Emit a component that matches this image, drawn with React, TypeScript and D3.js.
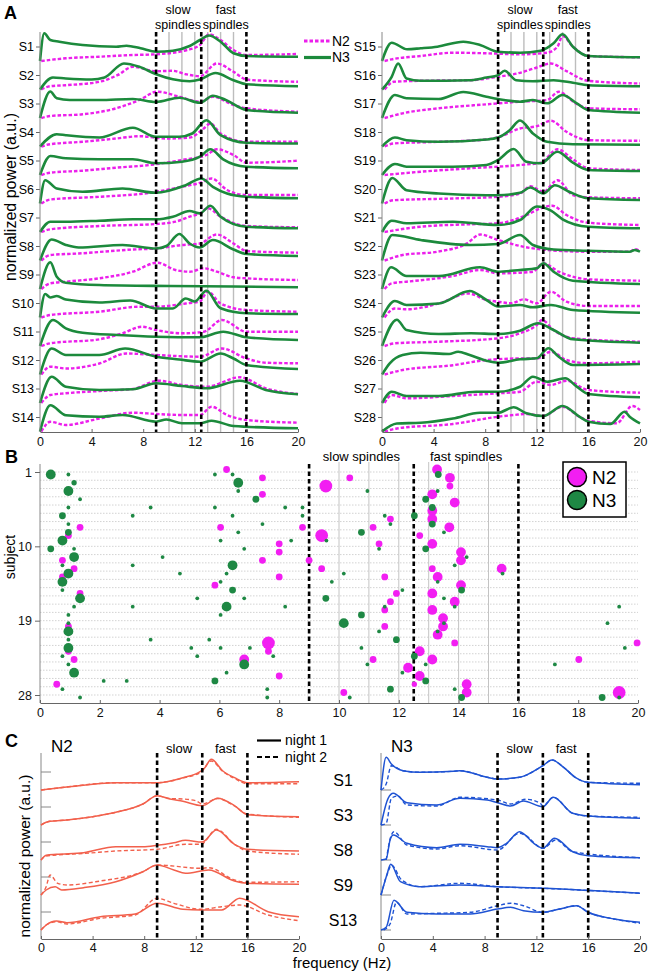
import React, { useEffect, useRef } from "react";
import * as d3 from "d3";

type Pt = [number, number];

const FONT = "Helvetica, Arial, 'Liberation Sans', sans-serif";
const MAGENTA = "#ec1fec";
const GREEN = "#1c8a3c";
const SALMON = "#f2604c";
const BLUE = "#1f53d3";

const subjects = d3.range(1, 29).map((i) => `S${i}`);
const spindleBounds = [9, 12.5, 16];
const binLines = [10, 11, 12, 13, 14, 15];
const freqTicksA = [0, 4, 8, 12, 16, 20];
const freqTicksB = [0, 2, 4, 6, 8, 10, 12, 14, 16, 18, 20];
const subjectTicksB = [1, 10, 19, 28];

// Panel A: mean spectra per subject, [frequency (Hz), power (a.u.)]
const n2Spectra: Pt[][] = [
  [[0.1,0],[2,2.7],[4.6,4.3],[7.2,6],[9,6.7],[11.4,11],[12.4,16],[13.1,26.7],[14,21],[15,11],[16,6],[20,7]],
  [[0.1,0],[0.8,3.3],[2,4.3],[4.6,7.7],[6,14.3],[7.2,22.7],[9,18.3],[10.3,18.7],[11.3,15.3],[12.4,13.3],[13.7,26],[15,17.7],[16,10],[17.5,8.7],[20,7.7]],
  [[0.1,0],[0.8,2],[3.3,3.7],[5.9,9.7],[7.7,18],[9.1,26.3],[10.8,21.3],[12.4,16.3],[13.4,21.3],[15,13],[16,9.7],[20,6.3]],
  [[0.1,0],[0.8,2.3],[3.3,4.7],[5.9,8],[7.7,10.3],[9.8,8],[11.6,9],[12.7,18],[13.2,23],[14,13],[16,4.7],[20,4.7]],
  [[0.1,0],[0.8,2.3],[3.3,4.3],[5.9,7.3],[8.5,10],[11,15],[12.9,20],[13.7,25.7],[15,20],[16,12.3],[20,14.3]],
  [[0.1,0],[0.8,4],[4.6,6.7],[8.5,10.7],[11,16.7],[12.4,20.7],[13.3,25],[14.5,13.5],[16,8.5],[20,8.5]],
  [[0.1,0],[0.8,2.7],[4.6,6],[9,8],[10.5,10.3],[11.6,15.3],[12.4,18.7],[13,23.7],[14,15.3],[16,6],[20,4.7]],
  [[0.1,0],[0.8,5.5],[3,7],[7.2,11],[9,12],[11,15.5],[12.4,17],[13.7,26],[15,17],[16,9.5],[20,7.8]],
  [[0.1,0],[0.8,5.7],[2,7.3],[4.6,10.7],[7.2,17.3],[9.1,26.3],[10.5,19],[11.6,17.3],[12.7,20.7],[13.7,17.3],[15,11.7],[16,10.7],[20,9]],
  [[0.1,0],[0.8,2.5],[4.6,5.8],[7.7,10.8],[9,10.8],[11.3,14],[12.4,16],[13,26],[14,14],[16,7.5],[20,5.8]],
  [[0.1,0],[0.8,2.7],[4.6,6.7],[6.4,12.7],[7.9,19.3],[9,16],[11,12.7],[12.7,14.3],[14.1,26],[16,14.3],[20,14.3]],
  [[0.1,0],[0.8,7.8],[2,6],[4.6,11],[6.7,21],[9,19.5],[12.4,17.8],[14.1,26],[16,16],[17.5,11.8],[20,11.2]],
  [[0.1,0],[0.8,8],[2,9.7],[4.6,12],[7.2,14],[9.2,22.3],[11,18],[12.9,16.3],[15.5,25.7],[17.5,14.7],[20,9]],
  [[0.1,0],[0.8,9.7],[2,6.5],[4.6,13],[7.2,18.8],[9,17.5],[11,16.5],[12.4,16.5],[13.3,24.8],[14.5,16.5],[16,11.5],[20,8.8]],
  [[0.2,0],[0.75,1.7],[3,5],[5.5,8.3],[8.1,7.7],[10.7,6.7],[12.8,8.3],[13.6,14.3],[14,25],[14.8,14.3],[16,5],[20,3.7]],
  [[0.2,0],[0.9,7.7],[3,8.7],[6.8,9.3],[9,12.7],[10.7,16.7],[12,22],[13.1,26],[14.3,18.3],[16,8.7],[20,6]],
  [[0.2,0],[1.6,4.7],[4.4,9.7],[8.1,13.7],[10.7,16.3],[12.8,18],[13.7,26.3],[15,14.7],[16,9.7],[20,8.7]],
  [[0.2,0],[0.9,3],[4.4,4.7],[8.1,7],[9.1,9.7],[10.7,18],[12,20.3],[13.1,25.7],[14.3,14.7],[16,6.3],[20,5.7]],
  [[0.2,0],[3,3.3],[6.8,6.7],[10.7,10],[12.3,12.3],[13.6,25.7],[14.8,15.7],[16,6.7],[20,5]],
  [[0.2,0],[0.9,3.3],[5.5,5],[9,6.7],[10.7,10],[11.5,17.3],[12.5,11.7],[13.6,23.3],[14.8,8.5],[16,6.2],[20,5.2]],
  [[0.2,0],[3,5.3],[6.8,7.7],[9,8.7],[11.2,17],[12.3,23.7],[13.2,26.3],[14.3,17],[16,9.3],[20,7]],
  [[0.2,0],[1.6,5.5],[4.3,8.8],[6.6,17.2],[7.6,26],[9,20.5],[10.7,14.5],[12.8,10.5],[15.9,8.8],[19.2,8.8],[19.6,11.2],[20,9.5]],
  [[0.2,0],[0.75,5.7],[1.9,7.3],[5.5,13],[7.6,19],[9,15.7],[10.7,16.3],[11.7,17.3],[12.5,25.7],[13.7,17.3],[16,9.7],[20,8.3]],
  [[0.2,0],[1,9],[1.9,8.2],[4.4,14],[6.7,24],[8.1,17.5],[9,15.8],[10,14.2],[11,18.2],[12,14.2],[13.1,25.8],[14.3,15.8],[16,11.5],[20,11.5]],
  [[0.2,0],[1,2.7],[4.4,4.3],[9,7.7],[10.7,12.7],[12,21],[12.4,26],[13.3,16],[14.8,7.7],[20,4.3]],
  [[0.2,0],[1.6,4.5],[5.5,9.3],[8.1,14.5],[10.7,16],[12,16],[13.1,22.8],[14.3,14.5],[16,11.2],[20,12.8]],
  [[0.2,0],[0.75,8],[1.9,4.7],[5.5,7],[9,9.7],[10.7,11.3],[12,21.3],[13.1,18],[14.3,22.3],[16,13],[20,10.3]],
  [[0.2,0],[1.15,3],[5.5,7.5],[9,14.8],[10.2,16.5],[11.2,17.5],[12.5,15.5],[14,24.8],[15.3,14.8],[16,10.8],[18.2,8.2],[19.4,25.5],[20,21.5]],
];

const n3Spectra: Pt[][] = [
  [[0,0],[0.33,27.7],[0.8,21],[1.5,19.3],[3.3,16],[5.9,14.3],[6.7,15.3],[7.8,12.7],[9,9.3],[10.3,10.3],[11.6,15],[12.4,21],[13.1,25.5],[14,19.3],[15,7.7],[16,5],[20,4.3]],
  [[0,0],[1,12],[2,11],[4,10],[5,12],[6.5,26],[7.7,22.7],[9,15.3],[10.3,10.3],[11.6,8.3],[12.4,10],[13.6,16.5],[15,9.3],[16,5.3],[20,3.3]],
  [[0,0],[0.8,26.5],[1.3,19.7],[2.3,18],[4.6,18],[7.2,19],[9,16],[10.8,20.3],[12.4,15.3],[13.4,22.3],[14.4,18],[16,8],[20,5.3]],
  [[0,0],[1.3,12.3],[2,11.3],[4.6,9],[7.2,18.7],[9,9.7],[10.8,9.7],[11.8,13],[12.9,26.3],[14,11.3],[16,3.7],[20,3]],
  [[0,0],[0.8,19],[2,16.7],[4.6,15.7],[7.2,15.7],[9,11.7],[11,13.3],[12.4,18.3],[13.2,25.7],[14.2,15.7],[16,8.3],[20,6.7]],
  [[0,0],[0.4,23.3],[1.3,15],[3.3,11.7],[6.4,15],[9,10.7],[11.3,18.3],[12.5,25],[13.4,16.7],[14.5,10],[16,6.8],[20,5.2]],
  [[0,0],[0.8,10.3],[2,10.3],[4.6,11.3],[7.2,12.7],[9,12.7],[10.3,15.3],[11.6,21],[12.4,18.7],[13.2,26.3],[14,15.3],[16,5.3],[20,3.7]],
  [[0,0],[0.9,21],[2,15.5],[3,13],[6.4,15.5],[9,12],[9.8,14.5],[10.8,26.5],[11.6,17],[12.4,13],[13.4,20.5],[15,11],[16,6.5],[20,4.5]],
  [[0,0],[0.8,26.7],[1.3,12.3],[2,6.3],[4.6,4],[10,3],[15,2.5],[20,1.7]],
  [[0,0],[0.4,23.5],[0.8,20],[1.3,21.5],[2,18],[4.6,15],[7,17],[9,9],[10.3,9],[11.3,19],[12,16],[12.9,26.8],[14,9.2],[16,4.2],[20,3.5]],
  [[0,0],[1,26],[2,17.7],[3.3,13.3],[6,11],[9,9.3],[12.4,8.7],[14.2,14.3],[16,8.7],[20,6]],
  [[0,0],[0.9,26],[2,19.5],[4.6,19.5],[6.6,26],[9,17.8],[10.8,15],[12.4,12.8],[14,21],[15,16],[16,9.5],[20,5.5]],
  [[0,0],[0.9,26.3],[2,16.3],[4.6,13],[7.2,13.7],[9,19.7],[11,17],[12.9,14.7],[15.5,22.3],[17.5,13],[20,8.7]],
  [[0,0],[0.8,26.3],[2,16.3],[4.6,14.8],[6.4,16.5],[9,9.8],[9.8,12],[11,8.2],[12.4,8.2],[13.3,10.8],[15,5.5],[20,3.2]],
  [[0,0],[0.75,18.3],[1.95,11.7],[3,12.7],[4.3,14.3],[6.3,19.3],[7.6,16],[9,9.3],[10.7,8.3],[12.3,10.3],[13.3,17.7],[14,26.7],[14.8,14.3],[16,5],[20,3.7]],
  [[0,0],[0.75,12.7],[1.25,26],[1.9,11],[3,8.7],[6.8,9.3],[8.1,12],[9,14.3],[9.5,18.7],[10.4,9.3],[11.7,8.3],[13.3,9.3],[14.8,6.7],[16,4.3],[20,3.3]],
  [[0,0],[1,23],[1.9,19.7],[4.4,19],[6.3,26],[8.1,21.3],[9,19],[10.7,16.3],[11.7,18],[12.8,14.7],[14,23],[15.1,14.7],[16,8],[20,5.3]],
  [[0,0],[1,9],[1.9,6.3],[4.4,4.7],[8.1,7],[9,9],[9.9,16.3],[10.7,26],[11.7,13],[12.8,4.7],[14.8,2.3],[20,1.7]],
  [[0,0],[1,11],[1.9,8.3],[5.5,8.3],[8.1,10],[9,15],[10.2,26],[11.2,13.3],[12.3,11.7],[13.6,23.3],[14.8,12.3],[16,5],[20,4]],
  [[0,0],[0.8,25.5],[1.9,13.3],[4.4,10],[8.1,8.3],[9,8.3],[10.7,10.7],[11.5,16],[12.5,10],[13.4,18.3],[14.5,11.8],[16,5.2],[20,3.5]],
  [[0,0],[0.75,11.3],[1.9,8.7],[5.5,10.3],[9,7],[10.7,12],[12,25.5],[13.1,21.3],[14,12.7],[16,5.3],[20,3.7]],
  [[0,0],[0.8,25.5],[3,20.5],[6.8,15.5],[9,16.5],[10.7,25.5],[11.7,15.5],[13.3,11],[15.9,9.8],[19.2,8.8],[19.6,10.5],[20,8.8]],
  [[0,0],[0.7,21.7],[1.9,13],[4.4,13],[7.6,21.7],[9,17.3],[10.7,19],[12,20.7],[12.5,25.7],[13.3,17.3],[14.8,8.3],[20,5]],
  [[0,0],[1,16.5],[1.9,12.5],[4.4,14],[6.8,26.5],[8.1,17.5],[9,11],[10.7,12.5],[11.7,10.2],[13.1,12.5],[14.8,7.5],[20,4.8]],
  [[0,0],[1.15,26.3],[1.9,16],[4.4,12],[6.9,12.7],[9,12],[10.7,15.3],[12.1,22.7],[13.3,16],[14.8,6.7],[20,3.3]],
  [[0,0],[0.6,11.2],[1.6,19.5],[3,21.8],[5.2,20.5],[5.9,22.8],[6.8,19.5],[8.1,13.8],[9,11.8],[10.7,15.2],[12,16.2],[12.9,26.2],[13.7,17.8],[14.8,9.5],[20,10.5]],
  [[0,0],[0.75,11.3],[1.9,7],[4.4,7],[7.3,11.3],[9,11.3],[10.7,16.3],[11.7,26.3],[12.8,21.3],[14.2,24.7],[15.1,16.3],[16,9],[20,5.7]],
  [[0,0],[1.15,8],[3,8.7],[5.5,13],[7.6,18.8],[9,18.8],[10.2,24.2],[11.2,18.2],[12.5,15.5],[14,25.5],[15.3,14.8],[16,9.8],[17.7,7.5],[18.8,19.8],[19.2,14.8],[20,8.2]],
];

// Panel B: detected peaks, [subject, frequency (Hz), amplitude class]
const n2Peaks: number[][] = [
  [1,6.24,2],[1,13.28,3],[2,7.44,2],[2,10.36,2],[2,13.71,3],[3,9.56,4],[3,13.71,2],
  [4,7.44,2],[4,13.12,3],[5,13.87,3],[6,13.12,3],[7,11.72,2],[7,13.12,3],
  [8,1.34,2],[8,6.04,2],[8,8.78,2],[8,11.14,2],[8,13.69,3],[9,0.95,2],[9,9.42,4],[9,12.7,2],
  [10,8.0,2],[10,11.34,2],[10,13.12,3],[11,8.0,2],[11,14.08,3],
  [12,0.75,2],[12,7.44,2],[12,9.0,2],[12,14.08,3],[13,1.14,2],[13,9.42,2],[13,13.12,2],[13,15.44,3],
  [14,0.75,2],[14,8.0,2],[14,11.53,2],[14,13.3,3],[15,5.85,2],[15,14.08,3],
  [16,1.34,2],[16,11.92,2],[16,13.12,3],[17,11.72,2],[17,13.87,3],[18,11.53,2],[18,13.12,3],
  [19,13.48,3],[20,0.95,2],[20,11.53,2],[20,13.48,3],[21,13.3,3],
  [22,7.64,4],[22,13.87,2],[22,19.97,2],[23,0.95,2],[23,7.64,2],[23,12.7,3],
  [24,1.14,2],[24,6.83,3],[24,11.14,2],[24,13.12,3],[24,18.02,2],[25,12.31,3],
  [26,8.0,2],[26,12.7,3],[27,0.56,2],[27,12.52,1.5],[27,14.27,3],
  [28,10.16,2],[28,14.27,3],[28,19.37,4],
];

const n3Peaks: number[][] = [
  [1,0.36,3],[1,0.95,1],[1,5.85,1],[1,6.44,1],[1,13.32,2],[2,1.14,1.5],[2,6.63,3],
  [3,0.95,3],[3,6.63,1],[3,10.95,1],[3,13.3,1],[4,1.34,1],[4,7.22,2],[4,12.9,2],
  [5,0.95,1],[5,3.7,1],[5,5.85,1],[5,8.2,1],[5,8.78,1],[5,13.12,2],
  [6,0.75,2],[6,3.1,1],[6,6.44,1],[6,8.78,1],[6,11.53,1],[6,12.52,2],
  [7,0.95,1],[7,7.44,1],[7,11.72,1],[7,13.12,2],[8,0.95,2],[8,6.63,1],[8,10.75,2],[8,13.51,1],
  [9,0.75,3],[9,6.04,1],[9,8.4,1],[9,9.58,1],[10,0.36,2],[10,1.14,1],[10,6.83,1],[10,11.34,1],[10,12.9,2],
  [11,1.14,3],[11,4.1,1],[11,14.27,1],[12,0.75,1],[12,3.1,1],[12,6.44,3],[12,13.87,1],
  [13,0.95,3],[13,4.68,1],[13,6.24,1],[13,10.16,1],[13,15.47,1],[14,0.75,3],[14,6.04,1],[14,9.76,1],[14,13.3,1],
  [15,0.75,1],[15,6.44,2],[15,12.12,1],[15,14.1,2],[16,1.34,3],[16,5.26,1],[16,6.83,1],[16,9.56,2],[16,13.51,1],
  [17,1.14,1],[17,3.1,1],[17,6.24,3],[17,8.2,1],[17,11.53,1],[17,13.87,1],[17,19.37,1],
  [18,0.95,1],[18,6.04,1],[18,10.75,2],[19,0.95,1],[19,10.16,3],[19,13.51,1],[19,18.98,1],
  [20,0.95,3],[20,11.34,1],[20,13.3,1],[21,0.95,1],[21,3.7,1],[21,5.66,1],[21,11.92,2],
  [22,0.95,3],[22,5.06,1],[22,6.04,1],[22,7.02,1],[22,10.75,1],[22,19.56,1],
  [23,0.75,1],[23,5.26,1],[23,7.8,1],[23,12.52,2],[24,0.95,1],[24,6.83,3],[24,10.95,1],[24,12.9,1],[24,17.22,1],
  [25,1.14,3],[25,6.24,1],[25,12.12,1],[26,2.13,1],[26,2.9,1],[26,5.85,2],[26,12.9,2],
  [27,0.75,1],[27,7.6,1],[27,11.72,2],[27,13.87,1],[28,1.34,1],[28,7.6,1],[28,10.36,1],[28,14.1,2],[28,18.8,2],[28,19.37,1],
];

// Panel C: two nights for example subjects
const exampleSubjects = ["S1", "S3", "S8", "S9", "S13"];
const n2Night1: Pt[][] = [
  [[0,0],[2,3],[5.8,7.3],[9,7.3],[11,12.3],[12.4,19],[12.7,22.3],[13.2,30.7],[14.1,19],[15,12.3],[16,7.3],[20,8.3]],
  [[0,0],[0.4,2.7],[0.7,3.7],[2,5],[4,8.3],[5.8,12.7],[7.9,21],[9,29.3],[10,26],[11,23.7],[12.5,19.3],[13.7,26.7],[15,19.3],[16,10.3],[20,8.3]],
  [[0,0],[0.4,4.7],[1.2,5.7],[3.3,7.3],[5.8,13.3],[7.9,13.3],[9,14.7],[10.3,17.3],[11.2,19.7],[12.5,18],[13.6,30],[15,15.7],[16,10.7],[20,9]],
  [[0,0],[0.4,5],[1.1,8.3],[1.6,5],[3.3,7.3],[5.8,13.3],[7.9,23.3],[9,30],[10.3,25],[11.2,21.7],[13,25],[15,14],[16,11.7],[20,10.7]],
  [[0,0],[0.4,5],[1.2,9],[2,7.3],[4.6,13.3],[7.3,16],[9,26.7],[11,20.7],[12.4,20],[14,20],[15.4,31.7],[17.6,18.3],[20,13.3]],
];
const n2Night2: Pt[][] = [
  [[0,0],[2,3],[5.8,7.3],[9,7.3],[11,12],[12.4,18],[13.2,29],[14.1,18.5],[15,11.5],[16,6.3],[20,6.3]],
  [[0,0],[0.4,2.7],[0.7,3.7],[2,5],[4,8.3],[5.8,12.7],[7.9,21],[9,29.3],[10,26.5],[11,26],[12,24.3],[12.5,21],[13.7,26.5],[15,19],[16,11],[20,7.7]],
  [[0,0],[0.4,4],[1.2,5],[3.3,6.5],[5.8,9],[9,10.7],[11.2,15.7],[12.4,15.7],[13.6,30.7],[15,15.7],[16,9],[20,5.7]],
  [[0,0],[0.4,8.3],[0.7,20],[1.3,11.7],[2,10],[4.6,14],[7.9,23.3],[9,30],[12.4,26.7],[13,27.3],[15,15],[16,12.7],[20,13.3]],
  [[0,0],[0.4,5],[1.2,8.3],[2,6],[4.6,11.7],[7.3,15],[9,31.7],[10.3,26.7],[12.4,20.7],[14,23.3],[15.4,25],[17.6,15],[20,9.3]],
];
const n3Night1: Pt[][] = [
  [[0,0],[0.4,32.7],[0.8,26],[1.7,19.3],[3,17.7],[5.6,18.7],[6.1,19.3],[8.2,12.7],[9,11],[10.7,12.7],[12.5,24.3],[13.2,30],[14.1,22.7],[15,12.7],[16,7.7],[20,5.3]],
  [[0,0],[0.55,26.7],[0.95,31.7],[2,22.3],[4.3,20],[6.1,26.7],[8.2,25],[9,22.3],[10,19],[11,24],[12.5,18.3],[13.3,27.7],[14.8,11.7],[16,9],[20,6.7]],
  [[0,0],[0.4,1],[0.7,20],[0.95,25],[2,16.7],[4.3,12.3],[6.1,15.7],[8.2,13.3],[9,12.3],[9.7,16.7],[10.7,28.3],[11.8,16.7],[12.5,11.7],[13.4,21.7],[14.8,8.3],[16,4.3],[20,2.3]],
  [[0,0],[0.45,20],[0.75,30.7],[1.5,13.3],[3,8.3],[6.1,10],[9,8.3],[12.5,6.7],[20,1.7]],
  [[0,0],[0.4,2.7],[1,29.7],[2,17.7],[4.3,16],[6.9,16],[9,21],[10,22.7],[11,19.3],[12.5,17.7],[13.8,21],[15.1,24.3],[16,17.7],[18,11],[20,7.7]],
];
const n3Night2: Pt[][] = [
  [[0,0],[0.4,6],[0.8,24.3],[1.7,19.3],[3,17.7],[5.6,18.7],[6.1,19.3],[8.2,12.7],[9,11],[10.7,12.7],[12.5,24.3],[13.2,30],[14.1,22.7],[15,12.7],[16,7.7],[20,6.7]],
  [[0,0],[0.4,1.7],[0.8,26.7],[1.3,29],[2,20],[4.3,19],[6.1,27.7],[9,25],[10,21],[11.2,25.7],[12.3,21.7],[12.5,19],[13.3,27.7],[14.8,11.7],[16,9],[20,7.7]],
  [[0.4,0],[0.8,25],[1,28.3],[2,15],[4.3,11],[6.1,14.3],[9,10],[10.7,26.7],[11.1,25],[12.5,11.7],[13.5,20],[14.8,8.3],[20,2.3]],
  [[0,0],[0.55,23.3],[0.8,30],[1.6,15],[3,8.3],[6.1,11.7],[9,8.3],[12.5,6.7],[20,1.7]],
  [[0.2,0],[0.7,6],[1.2,27.7],[2,16],[4.3,16.7],[6.9,17.7],[9,24.3],[10,26.7],[11,24.3],[12.5,17.7],[13.8,21],[15.1,24.3],[16,17.7],[18,11],[20,6.7]],
];

export default function App() {
  const ref = useRef<SVGSVGElement>(null);

  useEffect(() => {
    document.body.style.margin = "0";
    const svg = d3.select(ref.current);
    svg.selectAll("*").remove();
    svg.attr("font-family", FONT);

    const styleAxis = (g: any, size = 12) => {
      g.attr("font-family", FONT);
      g.select(".domain").attr("stroke", "#666");
      g.selectAll(".tick line").attr("stroke", "#666");
      g.selectAll(".tick text").attr("font-size", size).attr("fill", "#111");
    };

    const vlines = (g: any, x: any, y1: number, y2: number, grayW: number) => {
      g.selectAll(null).data(binLines).enter().append("line")
        .attr("x1", (d: number) => x(d)).attr("x2", (d: number) => x(d))
        .attr("y1", y1).attr("y2", y2)
        .attr("stroke", "#bdbdbd").attr("stroke-width", grayW);
    };
    const dashes = (g: any, x: any, y1: number, y2: number) => {
      g.selectAll(null).data(spindleBounds).enter().append("line")
        .attr("x1", (d: number) => x(d)).attr("x2", (d: number) => x(d))
        .attr("y1", y1).attr("y2", y2)
        .attr("stroke", "#000").attr("stroke-width", 2.6).attr("stroke-dasharray", "4.5,3");
    };

    // ---------- Panel A ----------
    const rowStep = 28.5;
    const topA = 32, botA = 432;
    const panelA = (x0: number, x1: number, start: number) => {
      const x = d3.scaleLinear().domain([0, 20]).range([x0, x1]);
      const g = svg.append("g");
      vlines(g, x, topA, botA, 1.4);
      for (let k = 0; k < 14; k++) {
        const base = 61 + k * rowStep;
        const y = d3.scaleLinear().domain([0, rowStep]).range([base, base - rowStep]);
        const line = d3.line<Pt>().x((d) => x(d[0])).y((d) => y(d[1])).curve(d3.curveMonotoneX);
        g.append("path").attr("d", line(n2Spectra[start + k])).attr("fill", "none")
          .attr("stroke", MAGENTA).attr("stroke-width", 2.4).attr("stroke-dasharray", "3.5,2");
        g.append("path").attr("d", line(n3Spectra[start + k])).attr("fill", "none")
          .attr("stroke", GREEN).attr("stroke-width", 2.6);
        g.append("line").attr("x1", x0 - 4).attr("x2", x0).attr("y1", base - 14).attr("y2", base - 14).attr("stroke", "#666");
        g.append("text").attr("x", x0 - 6).attr("y", base - 14).attr("dy", "0.35em")
          .attr("text-anchor", "end").attr("font-size", 12.5).text(subjects[start + k]);
      }
      dashes(g, x, topA, botA);
      g.append("line").attr("x1", x0).attr("x2", x0).attr("y1", topA).attr("y2", botA).attr("stroke", "#888");
      const ax = g.append("g").attr("transform", `translate(0,${botA})`)
        .call(d3.axisBottom(x).tickValues(freqTicksA).tickSize(-3).tickSizeOuter(0).tickPadding(5));
      styleAxis(ax, 12.5);
      const lab = (t: string, f: number, yy: number) =>
        g.append("text").attr("x", x(f)).attr("y", yy).attr("text-anchor", "middle").attr("font-size", 12.5).text(t);
      lab("slow", 10.7, 14); lab("spindles", 10.7, 29);
      lab("fast", 14.4, 14); lab("spindles", 14.4, 29);
    };
    panelA(40, 298, 0);
    panelA(382, 640, 14);

    svg.append("text").attr("x", 4).attr("y", 19).attr("font-size", 18).attr("font-weight", "bold").text("A");
    svg.append("text").attr("transform", "translate(16,197) rotate(-90)").attr("text-anchor", "middle")
      .attr("font-size", 16).text("normalized power (a.u.)");
    // legend A
    const legA = svg.append("g");
    legA.append("line").attr("x1", 304).attr("x2", 331).attr("y1", 41).attr("y2", 41)
      .attr("stroke", MAGENTA).attr("stroke-width", 3).attr("stroke-dasharray", "3.5,2");
    legA.append("line").attr("x1", 304).attr("x2", 331).attr("y1", 57.5).attr("y2", 57.5)
      .attr("stroke", GREEN).attr("stroke-width", 3.2);
    legA.append("text").attr("x", 332).attr("y", 41).attr("dy", "0.35em").attr("font-size", 14).text("N2");
    legA.append("text").attr("x", 332).attr("y", 57.5).attr("dy", "0.35em").attr("font-size", 14).text("N3");

    // ---------- Panel B ----------
    const xB = d3.scaleLinear().domain([0, 20]).range([40, 638]);
    const yB = d3.scaleLinear().domain([1, 28]).range([472, 695]);
    const botB = 703, topB = 464;
    const gB = svg.append("g");
    gB.selectAll(null).data(d3.range(1, 29)).enter().append("line")
      .attr("x1", 40).attr("x2", 638).attr("y1", (d) => yB(d)).attr("y2", (d) => yB(d))
      .attr("stroke", "#c8c8c8").attr("stroke-width", 0.8).attr("stroke-dasharray", "1.5,1.5");
    vlines(gB, xB, 462, botB, 0.9);
    dashes(gB, xB, topB, botB);
    const r = d3.scaleLinear().domain([1, 4]).range([1.9, 6.4]);
    gB.selectAll(null).data(n2Peaks).enter().append("circle")
      .attr("cx", (d) => xB(d[1])).attr("cy", (d) => yB(d[0] - 0.3)).attr("r", (d) => r(d[2]))
      .attr("fill", "#f21ef2");
    gB.selectAll(null).data(n3Peaks).enter().append("circle")
      .attr("cx", (d) => xB(d[1])).attr("cy", (d) => yB(d[0] + 0.3)).attr("r", (d) => r(d[2]))
      .attr("fill", "#1e8844");
    gB.append("line").attr("x1", 40).attr("x2", 40).attr("y1", topB).attr("y2", botB).attr("stroke", "#888");
    const axB = gB.append("g").attr("transform", `translate(0,${botB})`)
      .call(d3.axisBottom(xB).tickValues(freqTicksB).tickSize(-3).tickSizeOuter(0).tickPadding(5));
    styleAxis(axB, 12.5);
    const ayB = gB.append("g").attr("transform", "translate(40,0)")
      .call(d3.axisLeft(yB).tickValues(subjectTicksB).tickSize(5).tickSizeOuter(0).tickPadding(3));
    styleAxis(ayB, 12.5);
    ayB.select(".domain").remove();
    gB.append("text").attr("x", xB(10.75)).attr("y", 461).attr("text-anchor", "middle").attr("font-size", 13).text("slow spindles");
    gB.append("text").attr("x", xB(14.25)).attr("y", 461).attr("text-anchor", "middle").attr("font-size", 13).text("fast spindles");
    svg.append("text").attr("x", 5).attr("y", 463).attr("font-size", 18).attr("font-weight", "bold").text("B");
    svg.append("text").attr("transform", "translate(15,557) rotate(-90)").attr("text-anchor", "middle")
      .attr("font-size", 14).text("subject");
    const legB = svg.append("g");
    legB.append("rect").attr("x", 563).attr("y", 462).attr("width", 63).attr("height", 55)
      .attr("fill", "#fff").attr("stroke", "#000").attr("stroke-width", 1.5);
    [["N2", "#f21ef2", 477], ["N3", "#1e8844", 500]].forEach(([t, c, yy]) => {
      legB.append("circle").attr("cx", 577).attr("cy", yy as number).attr("r", 9.5)
        .attr("fill", c as string).attr("stroke", "#000").attr("stroke-width", 1.5);
      legB.append("text").attr("x", 592).attr("y", yy as number).attr("dy", "0.36em").attr("font-size", 19).text(t as string);
    });

    // ---------- Panel C ----------
    const topC = 753, botC = 939;
    const panelC = (x0: number, x1: number, n1: Pt[][], n2: Pt[][], color: string, title: string, tickOff: number, showNames: boolean) => {
      const x = d3.scaleLinear().domain([0, 20]).range([x0, x1]);
      const g = svg.append("g");
      g.append("line").attr("x1", x0).attr("x2", x0).attr("y1", topC).attr("y2", botC).attr("stroke", "#888");
      exampleSubjects.forEach((name, i) => {
        const base = 790 + i * 35;
        g.append("line").attr("x1", x0).attr("x2", x0 + 10).attr("y1", base + tickOff).attr("y2", base + tickOff).attr("stroke", "#888");
        const y = d3.scaleLinear().domain([0, 35]).range([base, base - 35]);
        const line = d3.line<Pt>().x((d) => x(d[0])).y((d) => y(d[1])).curve(d3.curveMonotoneX);
        g.append("path").attr("d", line(n2[i])).attr("fill", "none").attr("stroke", color)
          .attr("stroke-width", 1.4).attr("stroke-dasharray", "4,2.5");
        g.append("path").attr("d", line(n1[i])).attr("fill", "none").attr("stroke", color).attr("stroke-width", 1.5);
        if (showNames) {
          g.append("text").attr("x", 343).attr("y", base - 10).attr("dy", "0.35em").attr("text-anchor", "middle")
            .attr("font-size", 16).text(name);
        }
      });
      dashes(g, x, topC, botC);
      const ax = g.append("g").attr("transform", `translate(0,${botC})`)
        .call(d3.axisBottom(x).tickValues(freqTicksA).tickSize(-3).tickSizeOuter(0).tickPadding(4));
      styleAxis(ax, 12.5);
      g.append("text").attr("x", x0 + 10).attr("y", 752).attr("font-size", 17).text(title);
      g.append("text").attr("x", x(10.7)).attr("y", 753).attr("text-anchor", "middle").attr("font-size", 13).text("slow");
      g.append("text").attr("x", x(14.3)).attr("y", 753).attr("text-anchor", "middle").attr("font-size", 13).text("fast");
    };
    panelC(41, 299, n2Night1, n2Night2, SALMON, "N2", -18, false);
    panelC(381, 640, n3Night1, n3Night2, BLUE, "N3", 0, true);

    svg.append("text").attr("x", 5).attr("y", 747).attr("font-size", 18).attr("font-weight", "bold").text("C");
    svg.append("text").attr("transform", "translate(30,856) rotate(-90)").attr("text-anchor", "middle")
      .attr("font-size", 15.5).text("normalized power (a.u.)");
    svg.append("text").attr("x", 342).attr("y", 968).attr("text-anchor", "middle").attr("font-size", 15).text("frequency (Hz)");
    const legC = svg.append("g");
    legC.append("line").attr("x1", 257).attr("x2", 281).attr("y1", 740.5).attr("y2", 740.5).attr("stroke", "#000").attr("stroke-width", 2.2);
    legC.append("line").attr("x1", 257).attr("x2", 281).attr("y1", 757).attr("y2", 757).attr("stroke", "#000").attr("stroke-width", 2.2).attr("stroke-dasharray", "5,3");
    legC.append("text").attr("x", 285).attr("y", 740.5).attr("dy", "0.35em").attr("font-size", 14).text("night 1");
    legC.append("text").attr("x", 285).attr("y", 757).attr("dy", "0.35em").attr("font-size", 14).text("night 2");
  }, []);

  return <svg ref={ref} width={650} height={972} style={{ display: "block" }} />;
}
